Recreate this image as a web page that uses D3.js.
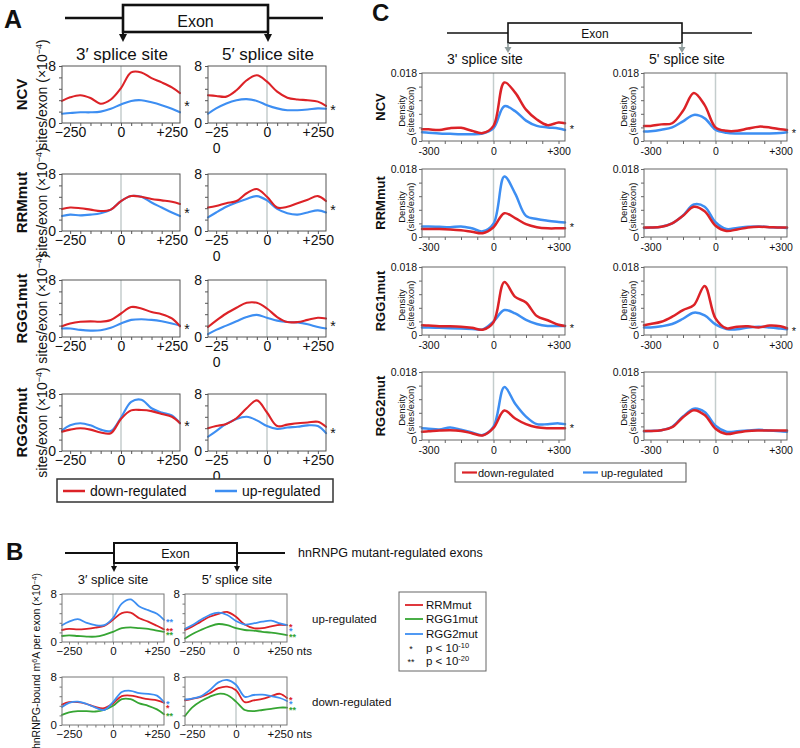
<!DOCTYPE html>
<html><head><meta charset="utf-8">
<script src="https://cdn.jsdelivr.net/npm/d3@7/dist/d3.min.js"></script>
<style>body{margin:0;background:#fff}svg{display:block}</style>
</head><body>
<svg id="c" width="800" height="748"></svg>
<script>
// ---------------- categories / labels ----------------
const rowNames = ["NCV","RRMmut","RGG1mut","RGG2mut"];
const siteNamesA = ["3′ splice site","5′ splice site"];
const siteNamesC = ["3' splice site","5' splice site"];
const regNames = ["down-regulated","up-regulated"];
const mutantNames = ["RRMmut","RGG1mut","RGG2mut"];
const groupNamesB = ["up-regulated","down-regulated"];
const pLabels = [["*","p < 10","-10"],["**","p < 10","-20"]];

// ---------------- Panel A (sites/exon ×10^-4) ----------------
const posA = [-290,-250,-200,-150,-100,-50,0,50,100,150,200,250,290];
const xTicksA = [-250,0,250];
const xMinorA = [-250,-200,-150,-100,-50,0,50,100,150,200,250];
const yTicksA = [0,8];
const yMinorA = [0,1.6,3.2,4.8,6.4,8];

const aNCV3down = [3.1,3.6,3.9,3.5,2.7,3.3,4.9,7.1,7.1,6.3,5.7,5.0,4.2];
const aNCV3up   = [1.3,1.4,1.5,1.5,1.6,2.0,2.6,3.1,3.2,2.9,2.5,2.0,1.5];
const aNCV5down = [3.9,3.8,3.7,4.6,6.0,6.7,5.8,4.4,3.55,3.3,3.2,3.0,2.4];
const aNCV5up   = [1.3,2.05,2.75,3.2,3.35,3.1,2.5,2.05,1.8,1.8,1.9,2.05,2.0];
const aRRM3down = [3.1,3.3,3.2,3.0,2.8,3.0,4.2,4.9,4.8,4.5,4.3,4.1,3.8];
const aRRM3up   = [2.1,2.3,2.2,2.3,2.5,3.0,4.2,4.9,4.8,4.0,3.3,2.6,2.1];
const aRRM5down = [3.3,3.5,3.9,4.2,5.3,5.9,4.8,3.3,3.4,3.9,4.4,4.9,4.2];
const aRRM5up   = [1.9,2.6,3.4,4.0,4.5,4.9,4.3,3.1,2.5,2.3,2.6,2.9,2.6];
const aRGG13down = [1.5,1.9,2.15,2.2,2.15,2.4,3.3,4.2,4.0,3.5,3.2,2.6,1.5];
const aRGG13up   = [1.2,1.2,1.0,0.9,0.95,1.3,1.9,2.4,2.5,2.4,2.2,1.9,1.6];
const aRGG15down = [1.4,2.3,3.3,4.1,4.8,4.8,4.0,2.8,2.1,2.1,2.4,2.7,2.6];
const aRGG15up   = [0.4,1.0,1.6,2.2,2.8,3.1,2.7,2.3,2.1,2.05,1.8,1.4,1.2];
const aRGG23down = [2.7,3.0,3.2,3.0,2.6,2.5,4.5,5.7,5.75,5.6,5.2,4.8,3.9];
const aRGG23up   = [2.9,3.6,3.9,3.6,3.0,2.8,4.7,6.9,7.2,6.0,5.4,5.0,3.9];
const aRGG25down = [3.2,3.5,3.8,4.6,6.0,7.1,5.4,3.5,3.7,3.9,4.0,4.1,3.4];
const aRGG25up   = [2.0,2.8,3.8,4.5,4.8,4.3,3.5,3.1,3.3,3.4,3.6,3.5,2.5];

// ---------------- Panel C (density, sites/exon, ×10^-3) ----------------
const posC = [-330,-300,-250,-200,-150,-100,-50,0,50,100,150,200,250,300,330];
const xTicksC = [-300,0,300];
const xMinorC = [-300,-225,-150,-75,0,75,150,225,300];
const yTicksC = [0,18];
const yMinorC = [0,3.6,7.2,10.8,14.4,18];

const cNCV3down = [3.1,3.1,2.9,3.4,3.5,2.7,2.1,4.0,15.5,12.8,8.3,5.7,4.2,4.9,4.7];
const cNCV3up   = [2.3,2.2,2.0,1.9,1.8,1.8,2.0,3.4,9.2,7.9,5.4,4.0,3.6,3.3,2.9];
const cNCV5down = [4.0,4.0,4.4,4.7,8.0,12.7,9.5,3.6,2.7,2.7,3.3,3.8,3.6,3.1,2.9];
const cNCV5up   = [2.5,2.6,3.0,3.6,5.2,6.9,6.0,3.0,2.2,2.0,2.0,2.0,2.0,2.1,2.3];
const cRRM3down = [2.1,2.1,2.1,2.0,1.8,1.4,1.0,2.6,6.3,5.0,3.4,2.6,2.3,2.3,2.3];
const cRRM3up   = [2.8,2.8,2.7,2.6,2.8,2.3,1.5,3.5,16.0,11.5,5.6,4.75,4.3,4.0,3.85];
const cRRM5down = [2.5,2.5,2.7,3.6,5.6,8.0,6.8,3.0,1.6,2.0,2.5,2.7,2.6,2.5,2.5];
const cRRM5up   = [2.4,2.5,2.7,3.6,5.7,8.6,8.0,3.9,2.1,2.4,2.7,2.8,2.6,2.5,2.4];
const cRGG13down = [2.6,2.5,2.3,2.3,2.2,1.9,1.4,3.4,14.0,10.1,8.6,5.0,3.9,2.7,2.4];
const cRGG13up   = [2.0,2.0,1.9,1.8,1.7,1.6,1.5,3.6,6.6,5.7,4.0,2.9,2.4,2.4,2.4];
const cRGG15down = [2.6,2.9,3.5,4.85,6.6,7.9,13.0,4.4,1.8,2.2,2.3,2.0,2.5,2.3,1.8];
const cRGG15up   = [2.0,2.0,2.3,2.9,4.3,5.9,5.2,2.8,1.6,1.5,2.0,2.2,2.0,1.7,1.5];
const cRGG23down = [2.2,2.3,2.5,2.6,2.4,1.8,1.2,3.2,7.8,5.7,4.2,3.35,3.1,3.1,3.1];
const cRGG23up   = [3.1,3.0,2.8,3.3,2.7,2.0,1.3,3.5,14.0,9.6,6.2,4.2,4.2,4.4,4.2];
const cRGG25down = [2.4,2.4,2.6,3.4,6.0,7.9,6.6,3.0,1.6,2.0,2.4,2.5,2.5,2.5,2.5];
const cRGG25up   = [2.3,2.4,2.6,3.5,6.2,8.3,7.4,3.8,2.2,2.3,2.5,2.7,2.5,2.3,2.2];
const starsC = [["*","*"],["*",""],["*","*"],["*",""]];

// ---------------- Panel B (hnRNPG-bound m6A per exon ×10^-4) ----------------
const posB = [-290,-250,-200,-150,-100,-50,0,50,100,150,200,250,290];
const bUp3RRM  = [2.0,2.2,2.1,2.2,2.4,2.7,3.7,4.8,4.9,3.95,3.4,2.7,2.1];
const bUp3RGG1 = [1.0,1.1,1.0,0.9,0.9,1.2,1.7,2.3,2.45,2.3,2.2,1.9,1.7];
const bUp3RGG2 = [2.8,3.4,3.8,3.2,2.8,2.8,4.0,6.4,7.1,5.9,5.3,4.7,3.7];
const bUp5RRM  = [2.0,2.55,3.4,4.2,4.7,5.0,4.2,2.9,2.3,2.3,2.6,2.85,2.8];
const bUp5RGG1 = [0.6,1.3,2.0,2.6,3.0,2.8,2.3,2.0,1.9,1.7,1.55,1.35,1.15];
const bUp5RGG2 = [2.2,2.8,3.7,4.5,4.9,4.5,3.5,2.9,3.1,3.4,3.55,3.1,2.8];
const bDn3RRM  = [3.4,3.8,3.8,3.5,3.0,2.8,3.6,4.8,4.9,4.6,4.3,4.1,3.7];
const bDn3RGG1 = [1.7,2.1,2.3,2.3,2.25,2.5,3.2,4.3,4.3,3.6,3.2,2.6,1.8];
const bDn3RGG2 = [3.0,3.7,3.9,3.5,2.9,2.5,3.8,5.5,5.7,5.3,5.2,4.9,3.8];
const bDn5RRM  = [4.1,4.35,4.7,5.3,6.15,6.4,5.8,3.8,4.1,4.35,4.8,5.2,4.5];
const bDn5RGG1 = [1.5,2.9,3.95,4.7,5.2,5.0,3.9,2.5,2.3,2.5,2.7,2.9,2.9];
const bDn5RGG2 = [4.25,4.4,4.8,5.8,7.1,7.5,6.7,4.7,5.0,5.06,4.8,4.5,4.0];
const starsB = [[["**","**","**"],["*","**","*"]],[["*","**","*"],["*","**","*"]]];

// ---------------- drawing ----------------
const FONT = '"Liberation Sans", Arial, Helvetica, sans-serif';
const RED = "#dc2227", BLUE = "#3d8ef2", GREEN = "#36a533";
const svg = d3.select("#c").attr("font-family", FONT);
svg.append("rect").attr("width",800).attr("height",748).attr("fill","#fff");

function txt(x, y, t, size, o = {}) {
  const e = svg.append("text").attr("x", x).attr("y", y).attr("font-size", size)
    .attr("fill", o.fill || "#111").attr("text-anchor", o.anchor || "start")
    .attr("font-weight", o.bold ? "bold" : null).text(t);
  if (o.rotate) e.attr("transform", `rotate(-90,${x},${y})`);
  return e;
}
function arrowDown(x, y1, y2, color, hw, hh, sw) {
  svg.append("line").attr("x1", x).attr("x2", x).attr("y1", y1).attr("y2", y2 - hh)
    .attr("stroke", color).attr("stroke-width", sw);
  svg.append("path").attr("d", `M${x - hw / 2},${y2 - hh}L${x + hw / 2},${y2 - hh}L${x},${y2}Z`).attr("fill", color);
}
function exon(o) {
  svg.append("line").attr("x1", o.x1).attr("x2", o.x2).attr("y1", o.ly).attr("y2", o.ly)
    .attr("stroke", "#111").attr("stroke-width", o.sw);
  svg.append("rect").attr("x", o.bx1).attr("y", o.by1).attr("width", o.bx2 - o.bx1).attr("height", o.by2 - o.by1)
    .attr("fill", "#fff").attr("stroke", "#111").attr("stroke-width", o.sw);
  txt((o.bx1 + o.bx2) / 2, o.ty, "Exon", o.fs, { anchor: "middle" });
  arrowDown(o.bx1, o.by2, o.ay, o.ac, o.hw, o.hh, o.asw);
  arrowDown(o.bx2, o.by2, o.ay, o.ac, o.hw, o.hh, o.asw);
}

function drawPlot(o) {
  const g = svg.append("g").attr("transform", `translate(${o.x},${o.y})`);
  const xs = d3.scaleLinear().domain(o.xDom).range([0, o.w]);
  const ys = d3.scaleLinear().domain(o.yDom).range([o.h, 0]);
  g.append("line").attr("x1", xs(0)).attr("x2", xs(0)).attr("y1", 0).attr("y2", o.h)
    .attr("stroke", "#c4cdcd").attr("stroke-width", 1.5);
  const mx = g.append("g").attr("transform", `translate(0,${o.h})`)
    .call(d3.axisBottom(xs).tickValues(o.xMinor).tickSize(o.tick).tickFormat(""));
  const my = g.append("g").call(d3.axisLeft(ys).tickValues(o.yMinor).tickSize(o.tick).tickFormat(""));
  [mx, my].forEach(a => { a.select(".domain").remove(); a.selectAll("line").attr("stroke", o.frame); });
  const lx = g.append("g").attr("transform", `translate(0,${o.h})`)
    .call(d3.axisBottom(xs).tickValues(o.xTicks).tickSize(0).tickPadding(o.xPad).tickFormat(o.xFmt));
  const ly = g.append("g")
    .call(d3.axisLeft(ys).tickValues(o.yTicks).tickSize(0).tickPadding(o.yPad).tickFormat(o.yFmt));
  [lx, ly].forEach(a => {
    a.select(".domain").remove();
    a.attr("font-family", FONT).attr("font-size", o.font);
    a.selectAll("text").attr("fill", "#111");
  });
  const line = d3.line().x((d, i) => xs(o.pos[i])).y(d => ys(d)).curve(d3.curveCatmullRom.alpha(0.5));
  o.series.forEach(s => g.append("path").datum(s.values).attr("d", line).attr("fill", "none")
    .attr("stroke", s.color).attr("stroke-width", o.lw).attr("stroke-linejoin", "round").attr("stroke-linecap", "round"));
  g.append("rect").attr("width", o.w).attr("height", o.h).attr("fill", "none")
    .attr("stroke", o.frame).attr("stroke-width", 1);
  return { g, xs, ys, lx, ly };
}
const fmtPM = d => d < 0 ? "−" + Math.abs(d) : d > 0 ? "+" + d : "0";
const fmtHy = d => d < 0 ? "-" + Math.abs(d) : d > 0 ? "+" + d : "0";

// ===== Panel A =====
txt(4, 28, "A", 25, { bold: true });
exon({ x1: 65, x2: 323, ly: 18, bx1: 123, bx2: 268, by1: 5, by2: 32, ty: 27, fs: 16, sw: 2.6,
  ay: 42, ac: "#111", hw: 8, hh: 8, asw: 2 });
txt(122, 60, siteNamesA[0], 17, { anchor: "middle" });
txt(268, 60, siteNamesA[1], 17, { anchor: "middle" });

const dataA = [
  [[aNCV3down, aNCV3up], [aNCV5down, aNCV5up]],
  [[aRRM3down, aRRM3up], [aRRM5down, aRRM5up]],
  [[aRGG13down, aRGG13up], [aRGG15down, aRGG15up]],
  [[aRGG23down, aRGG23up], [aRGG25down, aRGG25up]]
];
const topsA = [66, 174, 280, 394], hA = 57, xA = [62, 208], wA = 118;
dataA.forEach((row, r) => {
  const cy = topsA[r] + hA / 2;
  txt(27, cy, rowNames[r], 15, { bold: true, anchor: "middle", rotate: true });
  const yl = txt(47, cy, "sites/exon (×10", 14, { anchor: "middle", rotate: true });
  yl.append("tspan").attr("baseline-shift", "super").attr("font-size", 9).text("−4");
  yl.append("tspan").text(")");
  row.forEach((pair, s) => {
    const p = drawPlot({ x: xA[s], y: topsA[r], w: wA, h: hA, pos: posA, xDom: [-290, 290], yDom: [0, 8],
      xTicks: xTicksA, xMinor: xMinorA, yTicks: yTicksA, yMinor: yMinorA, xFmt: fmtPM, yFmt: d => String(d),
      tick: 3, xPad: 4, yPad: 6, font: 14, lw: 2.1, frame: "#555",
      series: [{ values: pair[1], color: BLUE }, { values: pair[0], color: RED }] });
    if (s === 1) {
      p.lx.selectAll(".tick text").filter(d => d === -250).each(function () {
        const t = d3.select(this); t.text("−25");
        t.append("tspan").attr("x", 0).attr("dy", "1.15em").text("0");
      });
    }
    const endY = (pair[0][pair[0].length - 1] + pair[1][pair[1].length - 1]) / 2;
    p.g.append("text").attr("x", wA + 7).attr("y", p.ys(endY) + 8).attr("text-anchor", "middle")
      .attr("font-size", 14).attr("fill", "#111").text("*");
  });
});
// legend A
svg.append("rect").attr("x", 57).attr("y", 479).attr("width", 276).attr("height", 23)
  .attr("fill", "#fff").attr("stroke", "#333").attr("stroke-width", 1.5);
[[63, 90, RED, regNames[0]], [215, 242, BLUE, regNames[1]]].forEach(([lx, tx, c, t]) => {
  svg.append("line").attr("x1", lx).attr("x2", lx + 22).attr("y1", 491).attr("y2", 491).attr("stroke", c).attr("stroke-width", 2.5);
  txt(tx, 496, t, 14);
});

// ===== Panel C =====
txt(372, 21, "C", 24, { bold: true });
exon({ x1: 447, x2: 752, ly: 33, bx1: 508, bx2: 682, by1: 23, by2: 43, ty: 38, fs: 12, sw: 1.6,
  ay: 53, ac: "#8f9c9c", hw: 7, hh: 6, asw: 1.6 });
txt(485, 64, siteNamesC[0], 14, { anchor: "middle" });
txt(687, 64, siteNamesC[1], 14, { anchor: "middle" });
const dataC = [
  [[cNCV3down, cNCV3up], [cNCV5down, cNCV5up]],
  [[cRRM3down, cRRM3up], [cRRM5down, cRRM5up]],
  [[cRGG13down, cRGG13up], [cRGG15down, cRGG15up]],
  [[cRGG23down, cRGG23up], [cRGG25down, cRGG25up]]
];
const topsC = [73, 169, 267, 372], hC = 68, xC = [422, 644], wC = 143;
dataC.forEach((row, r) => {
  const cy = topsC[r] + hC / 2;
  txt(385, cy, rowNames[r], 13, { bold: true, anchor: "middle", rotate: true });
  row.forEach((pair, s) => {
    const x0 = xC[s];
    txt(x0 - 17, cy + 4, "Density", 9.5, { anchor: "middle", rotate: true });
    txt(x0 - 8, cy + 4, "(sites/exon)", 9.5, { anchor: "middle", rotate: true });
    const p = drawPlot({ x: x0, y: topsC[r], w: wC, h: hC, pos: posC, xDom: [-330, 330], yDom: [0, 18],
      xTicks: xTicksC, xMinor: xMinorC, yTicks: yTicksC, yMinor: yMinorC, xFmt: fmtHy,
      yFmt: d => d === 0 ? "0" : "0.0" + d, tick: 3, xPad: 7, yPad: 5, font: 10.5, lw: 2.5, frame: "#666",
      series: [{ values: pair[1], color: BLUE }, { values: pair[0], color: RED }] });
    if (starsC[r][s]) {
      const endY = (pair[0][pair[0].length - 1] + pair[1][pair[1].length - 1]) / 2;
      p.g.append("text").attr("x", wC + 7).attr("y", p.ys(endY) + 6).attr("text-anchor", "middle")
        .attr("font-size", 11).attr("fill", "#111").text(starsC[r][s]);
    }
  });
});
svg.append("rect").attr("x", 455).attr("y", 463).attr("width", 231).attr("height", 19)
  .attr("fill", "#fff").attr("stroke", "#555").attr("stroke-width", 1);
[[462, 478, RED, regNames[0]], [583, 601, BLUE, regNames[1]]].forEach(([lx, tx, c, t]) => {
  svg.append("line").attr("x1", lx).attr("x2", lx + 15).attr("y1", 472.5).attr("y2", 472.5).attr("stroke", c).attr("stroke-width", 2.2);
  txt(tx, 476.5, t, 11);
});

// ===== Panel B =====
txt(6, 560, "B", 24, { bold: true });
exon({ x1: 65, x2: 285, ly: 553, bx1: 114, bx2: 237, by1: 543, by2: 563, ty: 558, fs: 12.5, sw: 2,
  ay: 572, ac: "#111", hw: 6, hh: 6, asw: 1.5 });
txt(298, 557, "hnRNPG mutant-regulated exons", 12.5);
txt(113, 584, siteNamesA[0], 13, { anchor: "middle" });
txt(237, 584, siteNamesA[1], 13, { anchor: "middle" });
{
  const yl = txt(40, 661, "hnRNPG-bound m", 10.5, { anchor: "middle", rotate: true });
  yl.append("tspan").attr("baseline-shift", "super").attr("font-size", 7).text("6");
  yl.append("tspan").text("A per exon  (×10");
  yl.append("tspan").attr("baseline-shift", "super").attr("font-size", 7).text("−4");
  yl.append("tspan").text(")");
}
const dataB = [
  [[bUp3RRM, bUp3RGG1, bUp3RGG2], [bUp5RRM, bUp5RGG1, bUp5RGG2]],
  [[bDn3RRM, bDn3RGG1, bDn3RGG2], [bDn5RRM, bDn5RGG1, bDn5RGG2]]
];
const topsB = [594, 677], hB = 48, xB = [62, 185], wB = 102;
const colorsB = [RED, GREEN, BLUE];
dataB.forEach((row, r) => {
  txt(312, topsB[r] + 29, groupNamesB[r], 11.5);
  row.forEach((trio, s) => {
    const p = drawPlot({ x: xB[s], y: topsB[r], w: wB, h: hB, pos: posB, xDom: [-290, 290], yDom: [0, 8],
      xTicks: xTicksA, xMinor: xMinorA, yTicks: yTicksA, yMinor: yMinorA, xFmt: fmtPM, yFmt: d => String(d),
      tick: 2.5, xPad: 5, yPad: 5, font: 11.5, lw: 1.8, frame: "#777",
      series: [{ values: trio[1], color: GREEN }, { values: trio[0], color: RED }, { values: trio[2], color: BLUE }] });
    if (s === 1) {
      p.lx.selectAll(".tick text").filter(d => d === 250).each(function () {
        const w = this.getComputedTextLength();
        d3.select(this).attr("text-anchor", "start").attr("x", -w / 2).text("+250 nts");
      });
    }
    // colored significance stars at series ends, nudged apart
    const marks = trio.map((v, i) => ({ y: p.ys(v[v.length - 1]), t: starsB[r][s][i], c: colorsB[i] }))
      .sort((a, b) => a.y - b.y);
    for (let i = 1; i < marks.length; i++) if (marks[i].y - marks[i - 1].y < 4) marks[i].y = marks[i - 1].y + 4;
    marks.forEach(m => p.g.append("text").attr("x", wB + 2).attr("y", m.y + 5).attr("font-size", 9)
      .attr("font-weight", "bold").attr("fill", m.c).text(m.t));
  });
});
// legend B
svg.append("rect").attr("x", 399).attr("y", 592).attr("width", 87).attr("height", 79)
  .attr("fill", "#fff").attr("stroke", "#666").attr("stroke-width", 1);
mutantNames.forEach((n, i) => {
  const y = [605, 619, 634][i];
  svg.append("line").attr("x1", 405).attr("x2", 423).attr("y1", y).attr("y2", y).attr("stroke", colorsB[i]).attr("stroke-width", 1.8);
  txt(426, y + 4, n, 11.5);
});
pLabels.forEach(([st, t, sup], i) => {
  const y = [652, 665][i];
  txt(411, y, st, 9, { anchor: "middle" });
  const e = txt(426, y, t, 11.5);
  e.append("tspan").attr("baseline-shift", "super").attr("font-size", 7.5).text(sup);
});
</script>
</body></html>
